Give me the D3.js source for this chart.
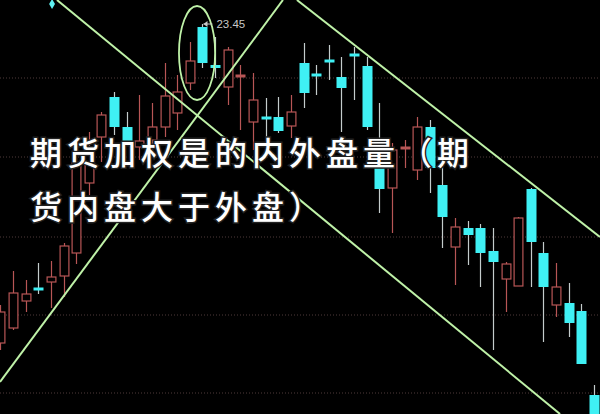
<!DOCTYPE html>
<html><head><meta charset="utf-8">
<script src="https://cdn.jsdelivr.net/npm/d3@7"></script>
<style>html,body{margin:0;padding:0;background:#000;} svg{display:block}</style>
</head><body><svg id="c" width="600" height="414"></svg>
<script>
const openP = [20.26,20.41,20.68,20.81,20.87,20.93,21.16,21.86,22.32,22.72,
  22.42,22.22,22.29,22.42,22.56,22.86,23.42,23.04,22.82,22.92,
  22.47,22.52,22.52,22.43,23.06,22.95,23.09,22.92,23.15,23.03,
  22.11,21.81,22.20,21.99,22.42,21.84,21.22,21.41,21.41,21.18,
  20.90,20.83,21.80,21.16,20.64,20.66,20.58,19.74];
const highP = [20.64,20.98,20.89,21.06,21.08,21.26,22.11,22.37,22.57,22.77,
  22.57,22.74,22.66,23.06,22.94,23.27,23.45,23.32,23.22,23.04,
  22.96,22.71,22.72,22.74,23.26,23.04,23.24,23.12,23.22,23.12,
  22.66,22.26,22.29,22.52,22.49,22.12,21.51,21.48,21.45,21.41,
  21.07,21.52,21.81,21.27,21.06,20.86,20.65,19.84];
const lowP = [20.19,20.39,20.57,20.75,20.61,20.72,21.05,21.74,22.07,22.34,
  22.24,22.09,22.17,22.32,22.39,22.79,23.01,22.91,22.64,22.39,
  22.19,22.29,22.36,22.31,22.61,22.74,22.89,22.37,22.69,22.39,
  21.56,21.36,22.01,21.89,21.76,21.21,20.84,21.04,20.82,20.19,
  20.57,20.83,20.82,20.27,20.52,20.32,20.05,19.49];
const closeP = [20.57,20.76,20.75,20.79,20.92,21.23,22.06,22.22,22.54,22.42,
  22.28,22.28,22.42,22.73,22.77,23.08,23.06,23.01,23.19,22.94,
  22.69,22.50,22.38,22.57,22.76,22.93,23.07,22.81,23.13,22.42,
  21.80,22.19,22.22,22.42,22.01,21.52,21.42,21.34,21.16,21.07,
  21.05,21.51,21.27,20.82,20.82,20.46,20.05,19.49];
const gridPrices = [22.91, 22.12, 21.32, 20.54, 19.76];
// trend lines: [index1, price1, index2, price2]
const trendLines = [[4.48,23.69,44.31,19.55],[-0.03,19.87,22.37,23.69],[23.48,23.69,47.47,21.32]];
// ellipse: [centerIndex, centerPrice, radiusIndex, radiusPrice]
const ellipseAnn = [15.57, 23.16, 1.43, 0.47];
const highLabel = {index: 16, text: "23.45"};
const markerPoint = {index: 4.09, price: 23.65};
const titleLines = ["期货加权是的内外盘量（期", "货内盘大于外盘）"];

const W = 600, H = 414;
const svg = d3.select("#c");
svg.append("rect").attr("width", W).attr("height", H).attr("fill", "#000");

const x = d3.scaleLinear().domain([0, 47]).range([0.4, 594]);
const y = d3.scaleLinear().domain([23.69, 19.55]).range([0, 414]);

// grid
svg.append("g").selectAll("line").data(gridPrices).join("line")
  .attr("x1", 0).attr("x2", W)
  .attr("y1", d => y(d)).attr("y2", d => y(d))
  .attr("stroke", "#4e3a3a").attr("stroke-width", 1).attr("stroke-dasharray", "1,2");

const data = openP.map((o, i) => ({i, o, h: highP[i], l: lowP[i], c: closeP[i]}));
const UP = "#b85656", DOWN = "#3ff0f4", DOWNWICK = "#c4cccc";
const bw = 10;
const g = svg.append("g");
data.forEach(d => {
  const up = d.c >= d.o;
  const cx = Math.round(x(d.i)) + 0.5;
  g.append("line").attr("x1", cx).attr("x2", cx)
    .attr("y1", y(d.h)).attr("y2", y(d.l))
    .attr("stroke", up ? UP : DOWNWICK).attr("stroke-width", 1.2);
  const top = y(Math.max(d.o, d.c)), bot = y(Math.min(d.o, d.c));
  if (bot - top < 3.5) {
    const m = (top + bot) / 2;
    g.append("rect").attr("x", cx - bw/2).attr("width", bw)
      .attr("y", m - 1.5).attr("height", 3)
      .attr("fill", up ? UP : DOWN);
  } else if (up) {
    g.append("rect").attr("x", cx - bw/2 + 0.6).attr("width", bw - 1.2)
      .attr("y", top).attr("height", bot - top)
      .attr("fill", "#000").attr("stroke", UP).attr("stroke-width", 1.2);
  } else {
    g.append("rect").attr("x", cx - bw/2).attr("width", bw)
      .attr("y", top).attr("height", bot - top)
      .attr("fill", DOWN);
  }
});

// marker diamond
svg.append("path")
  .attr("d", d3.symbol(d3.symbolDiamond, 30)())
  .attr("transform", `translate(${x(markerPoint.index)},${y(markerPoint.price)})`)
  .attr("fill", "#5ff0f0");

// trend lines
const GREEN = "#bff2a8";
svg.append("g").selectAll("line").data(trendLines).join("line")
  .attr("x1", d => x(d[0])).attr("y1", d => y(d[1]))
  .attr("x2", d => x(d[2])).attr("y2", d => y(d[3]))
  .attr("stroke", GREEN).attr("stroke-width", 2);

// ellipse
svg.append("ellipse")
  .attr("cx", x(ellipseAnn[0])).attr("cy", y(ellipseAnn[1]))
  .attr("rx", x(ellipseAnn[2]) - x(0)).attr("ry", y(23.69 - ellipseAnn[3]) - y(23.69))
  .attr("fill", "none").attr("stroke", GREEN).attr("stroke-width", 1.8);

// high label
const hx = x(highLabel.index) + 1, hy = y(highP[highLabel.index]);
svg.append("line").attr("x1", hx).attr("x2", hx + 9).attr("y1", hy).attr("y2", hy)
  .attr("stroke", "#c8c8c8").attr("stroke-width", 1);
svg.append("path").attr("d", `M${hx},${hy} l4,-3 l0,6 z`).attr("fill", "#c8c8c8");
svg.append("text").attr("x", hx + 13).attr("y", hy + 4)
  .attr("font-family", "Liberation Sans, Arial, sans-serif").attr("font-size", 11.5)
  .attr("fill", "#c8c8c8").text(highLabel.text);

// title overlay
svg.append("g").selectAll("text").data(titleLines).join("text")
  .attr("x", 30).attr("y", (d, i) => 165 + i * 54)
  .attr("font-family", "Noto Sans CJK SC, sans-serif")
  .attr("font-size", 32).attr("font-weight", 500)
  .attr("letter-spacing", 5)
  .attr("fill", "#fff").attr("stroke", "#222").attr("stroke-width", 3)
  .attr("paint-order", "stroke")
  .text(d => d);
</script></body></html>
